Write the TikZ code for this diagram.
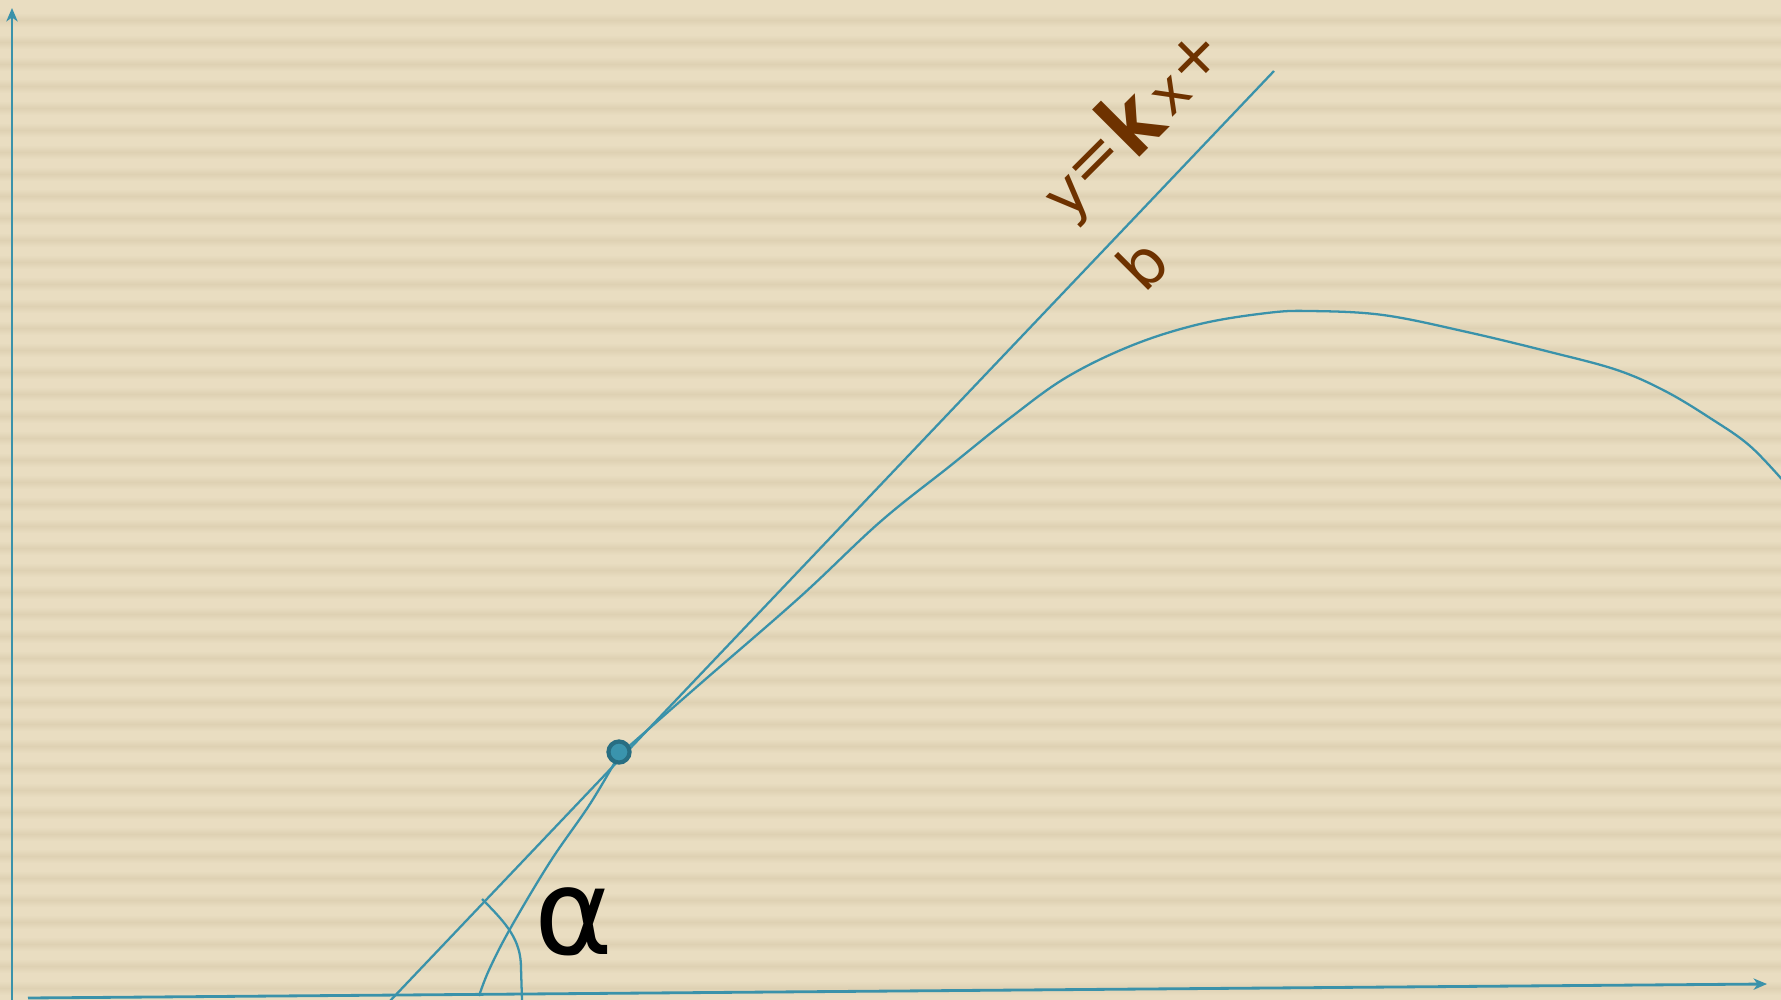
\documentclass[tikz,border=0pt]{standalone}
\usepackage{fontspec}
\setmainfont{DejaVu Sans}
\newfontfamily\boldk{DejaVu Sans Bold}
\usetikzlibrary{arrows.meta}
\definecolor{bg}{RGB}{233,221,193}
\definecolor{band}{RGB}{222,209,179}
\definecolor{tealc}{RGB}{58,146,170}
\definecolor{dotfill}{RGB}{58,148,173}
\definecolor{dotdraw}{RGB}{40,110,130}
\definecolor{brownc}{RGB}{110,50,0}
\tikzset{
  axisline/.style={draw=tealc, line width=0.8pt, -{Stealth[length=3.8pt,width=3.2pt,inset=1.1pt]}},
  thinline/.style={draw=tealc, line width=0.65pt},
  glyph/.style={text=brownc, inner sep=0pt, rotate=45},
}
\begin{document}
\begin{tikzpicture}[x=0.01cm,y=-0.01cm]
\useasboundingbox (0,0) rectangle (1781,1000);
\fill[bg] (0,0) rectangle (1781,1000);
\foreach \k in {0,...,45}{
  \shade[top color=bg,bottom color=bg,middle color=band] (0,{20+22*\k-7}) rectangle (1781,{20+22*\k+7});
}
% axes
\coordinate (yb) at (12,1000);
\coordinate (yt) at (12,8);
\coordinate (xl) at (28,998);
\coordinate (xr) at (1767,984);
\draw[axisline] (yb) -- (yt);
\draw[axisline] (xl) -- (xr);
% tangent line
\coordinate (t1) at (389,1002);
\coordinate (t2) at (1274,71);
\draw[thinline] (t1) -- (t2);
% curve
\coordinate (P) at (619,753);
\draw[thinline] plot[smooth, tension=0.6] coordinates {
 (479,996) (489,970) (510,929) (550,862) (590,804) (619,755)};
\draw[thinline] plot[smooth, tension=0.6] coordinates {
 (619,755) (700,684) (800,597) (880,522) (950,466) (1010,418)
 (1067,377) (1133,345) (1200,324) (1267,313) (1310,311) (1383,315)
 (1467,332) (1550,352) (1617,370) (1665,391) (1710,418) (1750,446) (1786,484)};
% angle arc
\coordinate (a1) at (482,899);
\coordinate (a2) at (522,1000);
\draw[thinline] (a1) .. controls (507,924) and (521,940) .. (521,968) -- (a2);
% point
\node[circle, fill=dotfill, draw=dotdraw, line width=1.2pt, minimum size=15pt, inner sep=0pt, scale=0.4] (dot) at (619,752) {};
% alpha
\node[inner sep=0pt, text=black] (alpha) at (574,922) {\fontsize{34}{40}\selectfont α};
% equation glyphs
\node[glyph] (gy) at (1074,202) {\fontsize{17.5}{20}\selectfont y};
\node[glyph] (geq) at (1097,164) {\fontsize{18.5}{22}\selectfont =};
\node[glyph] (gk) at (1129,121) {\scalebox{0.82}[1]{\fontsize{25}{30}\selectfont\boldk k}};
\node[glyph] (gx) at (1172,96) {\fontsize{16}{19}\selectfont x};
\node[glyph] (gplus) at (1194,58) {\fontsize{18}{21}\selectfont +};
\node[glyph] (gb) at (1142,264) {\fontsize{18}{21}\selectfont b};
\end{tikzpicture}
\end{document}
